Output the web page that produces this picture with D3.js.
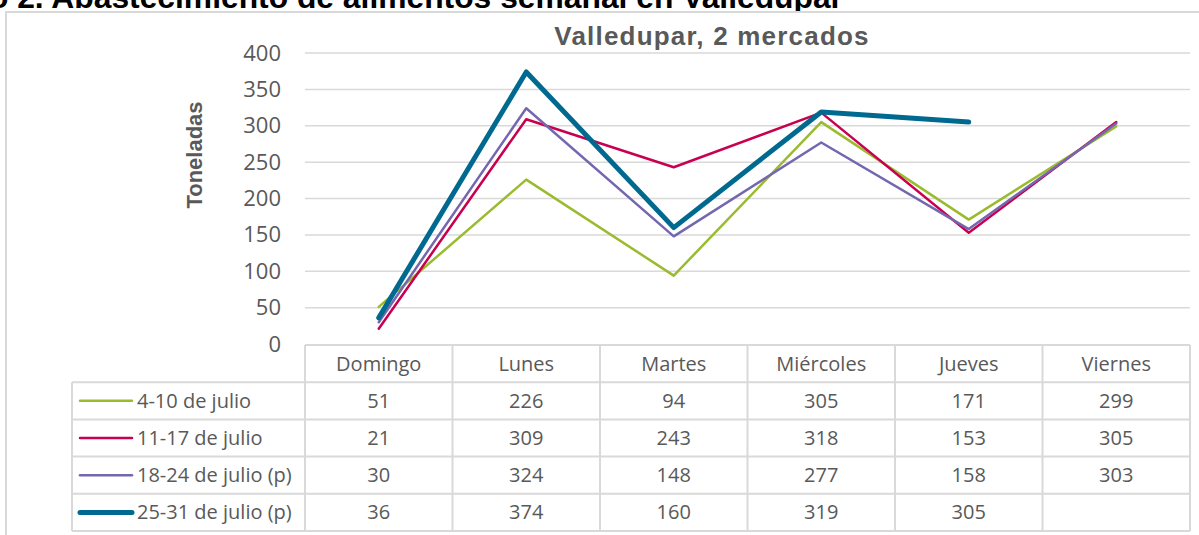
<!DOCTYPE html>
<html>
<head>
<meta charset="utf-8">
<script src="https://cdn.jsdelivr.net/npm/d3@7"></script>
<style>
  body { margin: 0; background: #fff; }
  svg { display: block; }
</style>
</head>
<body>
<svg id="chart"></svg>
<script>
const width = 1199;
const height = 535;

// datos
const dias = ["Domingo", "Lunes", "Martes", "Miércoles", "Jueves", "Viernes"];
const semanas = ["4-10 de julio", "11-17 de julio", "18-24 de julio (p)", "25-31 de julio (p)"];
const s1 = [51, 226, 94, 305, 171, 299];
const s2 = [21, 309, 243, 318, 153, 305];
const s3 = [30, 324, 148, 277, 158, 303];
const s4 = [36, 374, 160, 319, 305, null];
const yTicks = [0, 50, 100, 150, 200, 250, 300, 350, 400];

const colores = ["#9bbb2f", "#c8004f", "#7467b0", "#00698f"];
const grosor = [2.5, 2.5, 2.5, 5];
const series = [s1, s2, s3, s4];

const svg = d3.select('#chart')
  .attr('width', width)
  .attr('height', height);

const textColor = "#595959";
const gridColor = "#d9d9d9";

// titulo del documento (cortado arriba, como en la captura)
svg.append("text")
  .attr("x", 843)
  .attr("y", 8)
  .attr("text-anchor", "end")
  .attr("font-family", "Liberation Sans, Arial, sans-serif")
  .attr("font-weight", "bold")
  .attr("font-size", 31.8)
  .attr("fill", "#000")
  .text("Gráfico 2. Abastecimiento de alimentos semanal en Valledupar");

// marco del grafico
svg.append("rect")
  .attr("x", 6)
  .attr("y", 12)
  .attr("width", width + 10)
  .attr("height", height + 10)
  .attr("fill", "#fff")
  .attr("stroke", gridColor)
  .attr("stroke-width", 2);

const plotLeft = 305, plotRight = 1190;

const x = d3.scaleBand()
  .domain(dias)
  .range([plotLeft, plotRight]);

const y = d3.scaleLinear()
  .domain([0, 400])
  .range([344, 53]);

// lineas de cuadricula
svg.append("g")
  .selectAll("line")
  .data(yTicks.filter(d => d > 0))
  .join("line")
  .attr("x1", plotLeft)
  .attr("x2", plotRight)
  .attr("y1", d => y(d))
  .attr("y2", d => y(d))
  .attr("stroke", gridColor)
  .attr("stroke-width", 1.5);

// eje y
const yAxis = svg.append("g")
  .attr("transform", `translate(${plotLeft - 24},0)`)
  .call(d3.axisLeft(y).tickValues(yTicks).tickSize(0).tickPadding(0));
yAxis.select(".domain").remove();
yAxis.selectAll("text")
  .attr("font-family", "Open Sans, sans-serif")
  .attr("font-size", 22)
  .attr("fill", textColor);

svg.append("text")
  .attr("transform", `translate(202,155) rotate(-90)`)
  .attr("text-anchor", "middle")
  .attr("font-family", "Liberation Sans, Arial, sans-serif")
  .attr("font-weight", "bold")
  .attr("font-size", 22)
  .attr("fill", textColor)
  .text("Toneladas");

// titulo
svg.append("text")
  .attr("x", 712)
  .attr("y", 45)
  .attr("text-anchor", "middle")
  .attr("font-family", "Liberation Sans, Arial, sans-serif")
  .attr("font-weight", "bold")
  .attr("font-size", 26)
  .attr("letter-spacing", 1.2)
  .attr("fill", textColor)
  .text("Valledupar, 2 mercados");

// lineas
const line = d3.line()
  .defined(d => d.v != null)
  .x(d => x(d.dia) + x.bandwidth() / 2)
  .y(d => y(d.v));

series.forEach((s, i) => {
  svg.append("path")
    .datum(dias.map((dia, j) => ({ dia: dia, v: s[j] })))
    .attr("d", line)
    .attr("fill", "none")
    .attr("stroke", colores[i])
    .attr("stroke-width", grosor[i])
    .attr("stroke-linejoin", "round")
    .attr("stroke-linecap", "round");
});

// tabla de datos
const tableLeft = 72;
const rowY = d3.scaleBand()
  .domain(["header"].concat(semanas))
  .range([345, 531]);

const tabla = svg.append("g");

// bordes horizontales
tabla.selectAll(".hline")
  .data(rowY.domain())
  .join("line")
  .attr("class", "hline")
  .attr("x1", d => d === "header" ? plotLeft : tableLeft)
  .attr("x2", plotRight)
  .attr("y1", d => rowY(d))
  .attr("y2", d => rowY(d))
  .attr("stroke", gridColor)
  .attr("stroke-width", 2);
tabla.append("line")
  .attr("x1", tableLeft).attr("x2", plotRight)
  .attr("y1", rowY.range()[1]).attr("y2", rowY.range()[1])
  .attr("stroke", gridColor).attr("stroke-width", 2);

// bordes verticales
tabla.selectAll(".vline")
  .data(dias.map(d => x(d)).concat([plotRight]))
  .join("line")
  .attr("class", "vline")
  .attr("x1", d => d)
  .attr("x2", d => d)
  .attr("y1", rowY.range()[0])
  .attr("y2", rowY.range()[1])
  .attr("stroke", gridColor)
  .attr("stroke-width", 2);
tabla.append("line")
  .attr("x1", tableLeft).attr("x2", tableLeft)
  .attr("y1", rowY(semanas[0])).attr("y2", rowY.range()[1])
  .attr("stroke", gridColor).attr("stroke-width", 2);

// encabezados
tabla.selectAll(".head")
  .data(dias)
  .join("text")
  .attr("class", "head")
  .attr("x", d => x(d) + x.bandwidth() / 2)
  .attr("y", rowY("header") + rowY.bandwidth() / 2)
  .attr("dy", "0.35em")
  .attr("text-anchor", "middle")
  .attr("font-family", "Open Sans, sans-serif")
  .attr("font-size", 20)
  .attr("fill", textColor)
  .text(d => d);

// filas
semanas.forEach((sem, i) => {
  const cy = rowY(sem) + rowY.bandwidth() / 2;
  tabla.append("line")
    .attr("x1", 80).attr("x2", 132)
    .attr("y1", cy).attr("y2", cy)
    .attr("stroke", colores[i])
    .attr("stroke-width", grosor[i])
    .attr("stroke-linecap", "round");
  tabla.append("text")
    .attr("x", 137)
    .attr("y", cy)
    .attr("dy", "0.35em")
    .attr("font-family", "Open Sans, sans-serif")
    .attr("font-size", 20)
    .attr("fill", textColor)
    .text(sem);
  tabla.selectAll(".val" + i)
    .data(dias.map((dia, j) => ({ dia: dia, v: series[i][j] })).filter(d => d.v != null))
    .join("text")
    .attr("x", d => x(d.dia) + x.bandwidth() / 2)
    .attr("y", cy)
    .attr("dy", "0.35em")
    .attr("text-anchor", "middle")
    .attr("font-family", "Open Sans, sans-serif")
    .attr("font-size", 20)
    .attr("fill", textColor)
    .text(d => d.v);
});
</script>
</body>
</html>
